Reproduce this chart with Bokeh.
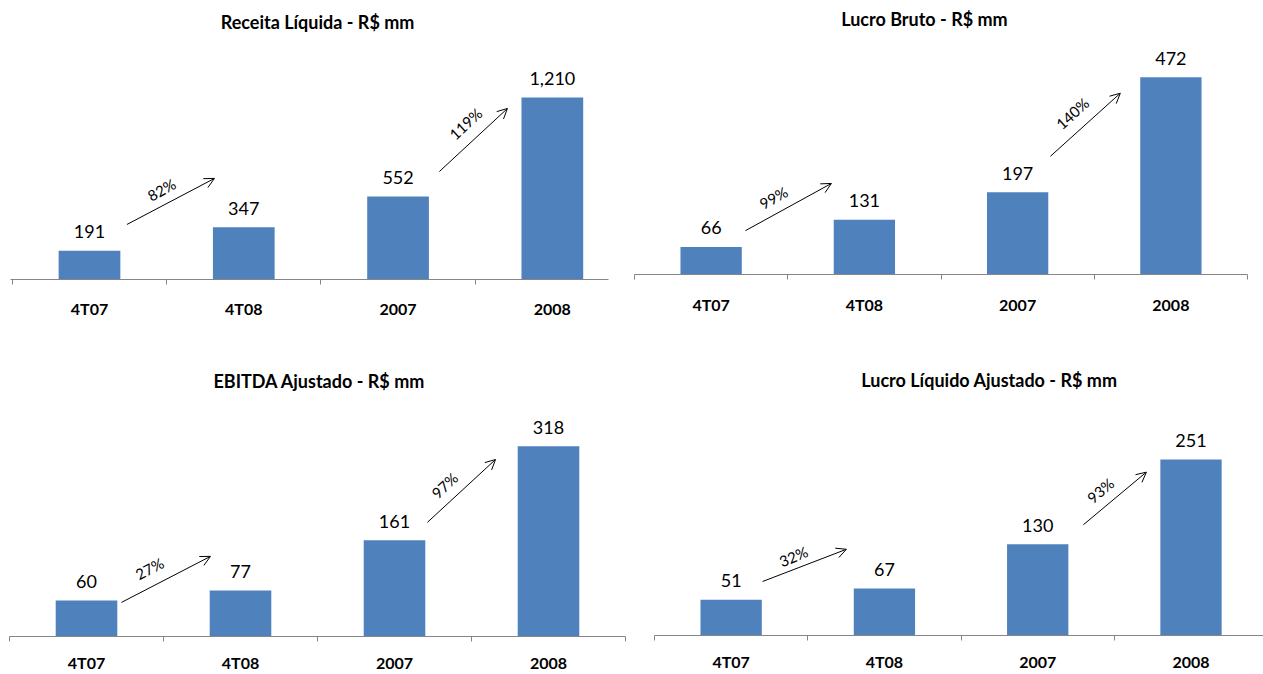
from bokeh.plotting import figure
from bokeh.layouts import column, row
from bokeh.models import Range1d, FixedTicker, Arrow, OpenHead, Label, ColumnDataSource
from bokeh.core.properties import value
from bokeh.embed import file_html
from bokeh.resources import INLINE

# ---------------- data ----------------
categories = ["4T07", "4T08", "2007", "2008"]
receita_liquida = [191, 347, 552, 1210]
lucro_bruto = [66, 131, 197, 472]
ebitda_ajustado = [60, 77, 161, 318]
lucro_liquido_ajustado = [51, 67, 130, 251]

receita_growth = ["82%", "119%"]
lucro_bruto_growth = ["99%", "140%"]
ebitda_growth = ["27%", "97%"]
lucro_liquido_growth = ["32%", "93%"]

titles = [
    "Receita Líquida - R$ mm",
    "Lucro Bruto - R$ mm",
    "EBITDA Ajustado - R$ mm",
    "Lucro Líquido Ajustado - R$ mm",
]

# ---------------- style / layout ----------------
BAR = "#4F81BD"
AXIS = "#868686"
FONT = "Lato"

layouts = [
    dict(width=630, height=343, bl=10, br=22, bb=64, x=(0.488, 4.364), ytop=1855, standoff=14,
         title=(2.478, 1709),
         arrows=[(1.243, 366, 1.810, 672, 1.467, 598, 29), (3.268, 718, 3.709, 1137, 3.437, 1037, 43)]),
    dict(width=633, height=343, bl=4, br=16, bb=69, x=(0.5, 4.5), ytop=656, standoff=15,
         title=(2.392, 611),
         arrows=[(1.224, 105, 1.785, 218, 1.407, 184, 29), (3.214, 283, 3.670, 434, 3.357, 386, 42)]),
    dict(width=640, height=331, bl=9, br=15, bb=38, x=(0.5, 4.5), ytop=490, standoff=11,
         title=(2.513, 428),
         arrows=[(1.227, 57, 1.805, 134, 1.409, 114, 28), (3.214, 191, 3.656, 296, 3.325, 253, 43)]),
    dict(width=623, height=331, bl=14, br=0, bb=39, x=(0.5, 4.473), ytop=416.5, standoff=11,
         title=(2.685, 365),
         arrows=[(1.205, 77, 1.752, 123, 1.407, 113, 23), (3.298, 158, 3.709, 233, 3.409, 207, 40)]),
]


def make_chart(title, values, growth, cfg):
    xs = [i + 1 for i in range(len(categories))]
    p = figure(width=cfg["width"], height=cfg["height"],
               x_range=Range1d(*cfg["x"]), y_range=Range1d(0, cfg["ytop"]),
               toolbar_location=None, output_backend="svg", y_axis_location=None,
               min_border_left=cfg["bl"], min_border_right=cfg["br"],
               min_border_top=0, min_border_bottom=cfg["bb"],
               outline_line_color=None, background_fill_color="white",
               border_fill_color="white")
    p.frame_align = False
    p.grid.visible = False

    src = ColumnDataSource(dict(x=xs, top=values, label=[f"{v:,}" for v in values]))
    p.vbar(x="x", top="top", width=0.4, source=src, fill_color=BAR, line_color=None)
    p.text(x="x", y="top", text="label", source=src, text_align="center",
           text_baseline="middle", y_offset=-19, text_font=value(FONT),
           text_font_size="18px", text_color="#000000")

    ax = p.xaxis[0]
    ax.ticker = FixedTicker(ticks=xs, minor_ticks=[i + 0.5 for i in range(len(categories) + 1)])
    ax.major_label_overrides = {x: c for x, c in zip(xs, categories)}
    ax.major_tick_line_color = None
    ax.major_tick_out = 0
    ax.major_tick_in = 0
    ax.minor_tick_line_color = AXIS
    ax.minor_tick_out = 5
    ax.minor_tick_in = 0
    ax.axis_line_color = AXIS
    ax.axis_line_width = 1
    ax.major_label_text_font = FONT
    ax.major_label_text_font_style = "bold"
    ax.major_label_text_font_size = "16px"
    ax.major_label_text_color = "#000000"
    ax.major_label_standoff = cfg["standoff"]

    tx, ty = cfg["title"]
    p.add_layout(Label(x=tx, y=ty, text=title, text_align="center", text_baseline="middle",
                       text_font=FONT, text_font_style="bold", text_font_size="18px",
                       text_color="#000000"))

    for (x0, y0, x1, y1, lx, ly, ang), g in zip(cfg["arrows"], growth):
        p.add_layout(Arrow(end=OpenHead(size=10, line_width=1, line_color="black"),
                           x_start=x0, y_start=y0, x_end=x1, y_end=y1,
                           line_color="black", line_width=1))
        p.text(x=[lx], y=[ly], text=[g], angle=[ang], angle_units="deg",
               text_align="center", text_baseline="middle", text_font=value(FONT),
               text_font_size="15px", text_color="#000000")
    return p


series = [receita_liquida, lucro_bruto, ebitda_ajustado, lucro_liquido_ajustado]
growths = [receita_growth, lucro_bruto_growth, ebitda_growth, lucro_liquido_growth]
plots = [make_chart(t, s, g, c) for t, s, g, c in zip(titles, series, growths, layouts)]

layout = column(row(plots[0], plots[1]), row(plots[2], plots[3]))

open("out.html", "w").write(file_html(layout, INLINE))
